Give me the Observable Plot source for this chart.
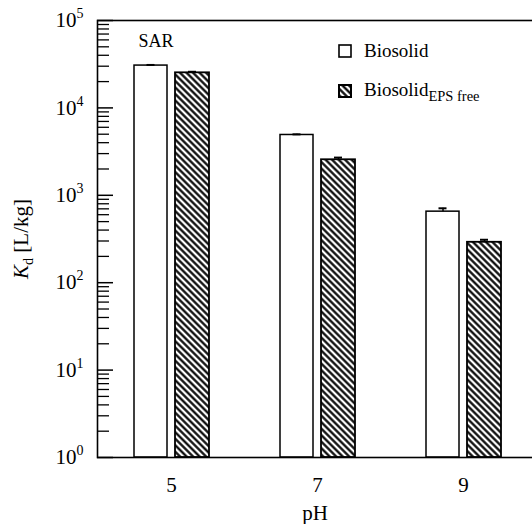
<!DOCTYPE html>
<html><head><meta charset="utf-8">
<script src="https://cdn.jsdelivr.net/npm/d3@7"></script>
<script src="https://cdn.jsdelivr.net/npm/@observablehq/plot@0.6"></script>
<style>html,body{margin:0;padding:0;background:#fff;overflow:hidden}
svg text{font-family:'Liberation Serif','Times New Roman',serif !important}</style>
</head><body><div id="chart"></div>
<script>
// ---- data ----
const pH = ["5", "7", "9"];
const biosolid = [30500, 4900, 650];
const biosolidErr = [500, 80, 60];
const epsFree = [25200, 2550, 290];
const epsFreeErr = [700, 150, 20];
const majorTicks = [1, 10, 100, 1000, 10000, 100000];
const minorFactors = [2, 3, 4, 5, 6, 7, 8, 9];
const seriesNames = ["Biosolid", "Biosolid", "EPS free"];
const yLabel = ["K", "d", " [L/kg]"];
const xLabel = "pH";
const panelLabel = "SAR";

const minorTicks = majorTicks.slice(0, -1).flatMap(m => minorFactors.map(f => f * m));
const bioRows = pH.map((p, i) => ({pH: p, value: biosolid[i], err: biosolidErr[i]}));
const epsRows = pH.map((p, i) => ({pH: p, value: epsFree[i], err: epsFreeErr[i]}));

const W = 532, H = 524, ML = 97, MR = 0, MT = 20, MB = 67;
const plotW = W - ML - MR;
const sup = "⁰¹²³⁴⁵⁶⁷⁸⁹";
const serif = "'Liberation Serif', serif";

const chart = Plot.plot({
  width: W, height: H,
  marginLeft: ML, marginRight: MR, marginTop: MT, marginBottom: MB,
  style: {fontFamily: serif, fontSize: "21px", color: "black", background: "white"},
  x: {type: "band", domain: pH, range: [98, 536], padding: 0, axis: null},
  y: {type: "log", domain: [1, 1e5], axis: null},
  marks: [
    Plot.barY(bioRows, {x: "pH", y1: 1, y2: "value", fill: "white", stroke: "black", strokeWidth: 1.5, insetLeft: 36, insetRight: 77}),
    Plot.barY(epsRows, {x: "pH", y1: 1, y2: "value", fill: "url(#hatch)", stroke: "black", strokeWidth: 1.8, insetLeft: 77, insetRight: 35}),
    Plot.ruleX(bioRows, {x: "pH", y1: "value", y2: d => d.value + d.err, dx: -20.5, stroke: "black", strokeWidth: 1.5}),
    Plot.tickY(bioRows, {x: "pH", y: d => d.value + d.err, insetLeft: 48.5, insetRight: 89.5, stroke: "black", strokeWidth: 2}),
    Plot.ruleX(epsRows, {x: "pH", y1: "value", y2: d => d.value + d.err, dx: 21, stroke: "black", strokeWidth: 1.5}),
    Plot.tickY(epsRows, {x: "pH", y: d => d.value + d.err, insetLeft: 90, insetRight: 48, stroke: "black", strokeWidth: 2}),
    Plot.ruleY(minorTicks, {insetRight: plotW - 12, stroke: "black", strokeWidth: 1.3}),
    Plot.ruleY(majorTicks, {insetRight: plotW - 16, stroke: "black", strokeWidth: 1.5}),
    Plot.frame({stroke: "black", strokeWidth: 1.6, insetRight: -10}),
    Plot.axisY(majorTicks, {anchor: "left", tickSize: 0, tickPadding: 14, fontSize: 21,
      tickFormat: d => "10" + sup[Math.round(Math.log10(d))],
      label: yLabel.join(""), labelAnchor: "center", labelOffset: 84}),
    Plot.axisX({anchor: "bottom", tickSize: 0, tickPadding: 20, fontSize: 21,
      label: xLabel, labelAnchor: "center", labelOffset: 62}),
    Plot.text([panelLabel], {frameAnchor: "top-left", dx: 41, dy: 14, fontSize: 18, fontFamily: serif, textAnchor: "start", lineAnchor: "top"})
  ]
});

const svg = d3.select(chart.tagName === "svg" ? chart : chart.querySelector("svg"));
// hatch pattern
const defs = svg.insert("defs", ":first-child");
const pat = defs.append("pattern").attr("id", "hatch").attr("patternUnits", "userSpaceOnUse")
  .attr("width", 4.6).attr("height", 4.6).attr("patternTransform", "rotate(-45)");
pat.append("rect").attr("width", 4.6).attr("height", 4.6).attr("fill", "white");
pat.append("line").attr("x1", 2.3).attr("x2", 2.3).attr("y1", -1).attr("y2", 6).attr("stroke", "black").attr("stroke-width", 2.2);

// superscript tick labels
svg.selectAll('[aria-label="y-axis tick label"] text').each(function() {
  const t = this.textContent;
  const e = sup.indexOf(t.slice(2));
  const el = d3.select(this);
  el.text("10");
  el.append("tspan").attr("dy", -9).attr("font-size", 14).text(String(e));
});
// y label with italic K and subscript d
svg.selectAll('[aria-label="y-axis label"] text').each(function() {
  const el = d3.select(this);
  el.text("");
  el.append("tspan").attr("font-style", "italic").text(yLabel[0]);
  el.append("tspan").attr("font-size", 14).attr("dy", 5).text(yLabel[1]);
  el.append("tspan").attr("dy", -5).text(yLabel[2]);
});

// legend
const lg = svg.append("g").attr("font-family", serif).attr("text-anchor", "start").attr("fill", "black");
lg.append("rect").attr("x", 339).attr("y", 45).attr("width", 12).attr("height", 12).attr("fill", "white").attr("stroke", "black").attr("stroke-width", 1.6);
lg.append("text").attr("x", 364).attr("y", 57).attr("font-size", 19).attr("text-anchor", "start").text(seriesNames[0]);
lg.append("rect").attr("x", 339).attr("y", 85).attr("width", 12).attr("height", 12).attr("fill", "url(#hatch)").attr("stroke", "black").attr("stroke-width", 2);
const t2 = lg.append("text").attr("x", 364).attr("y", 96).attr("font-size", 19).attr("text-anchor", "start").text(seriesNames[1]);
t2.append("tspan").attr("font-size", 14.5).attr("dy", 5).text(seriesNames[2]);

document.getElementById("chart").appendChild(chart);
</script>
</body></html>
